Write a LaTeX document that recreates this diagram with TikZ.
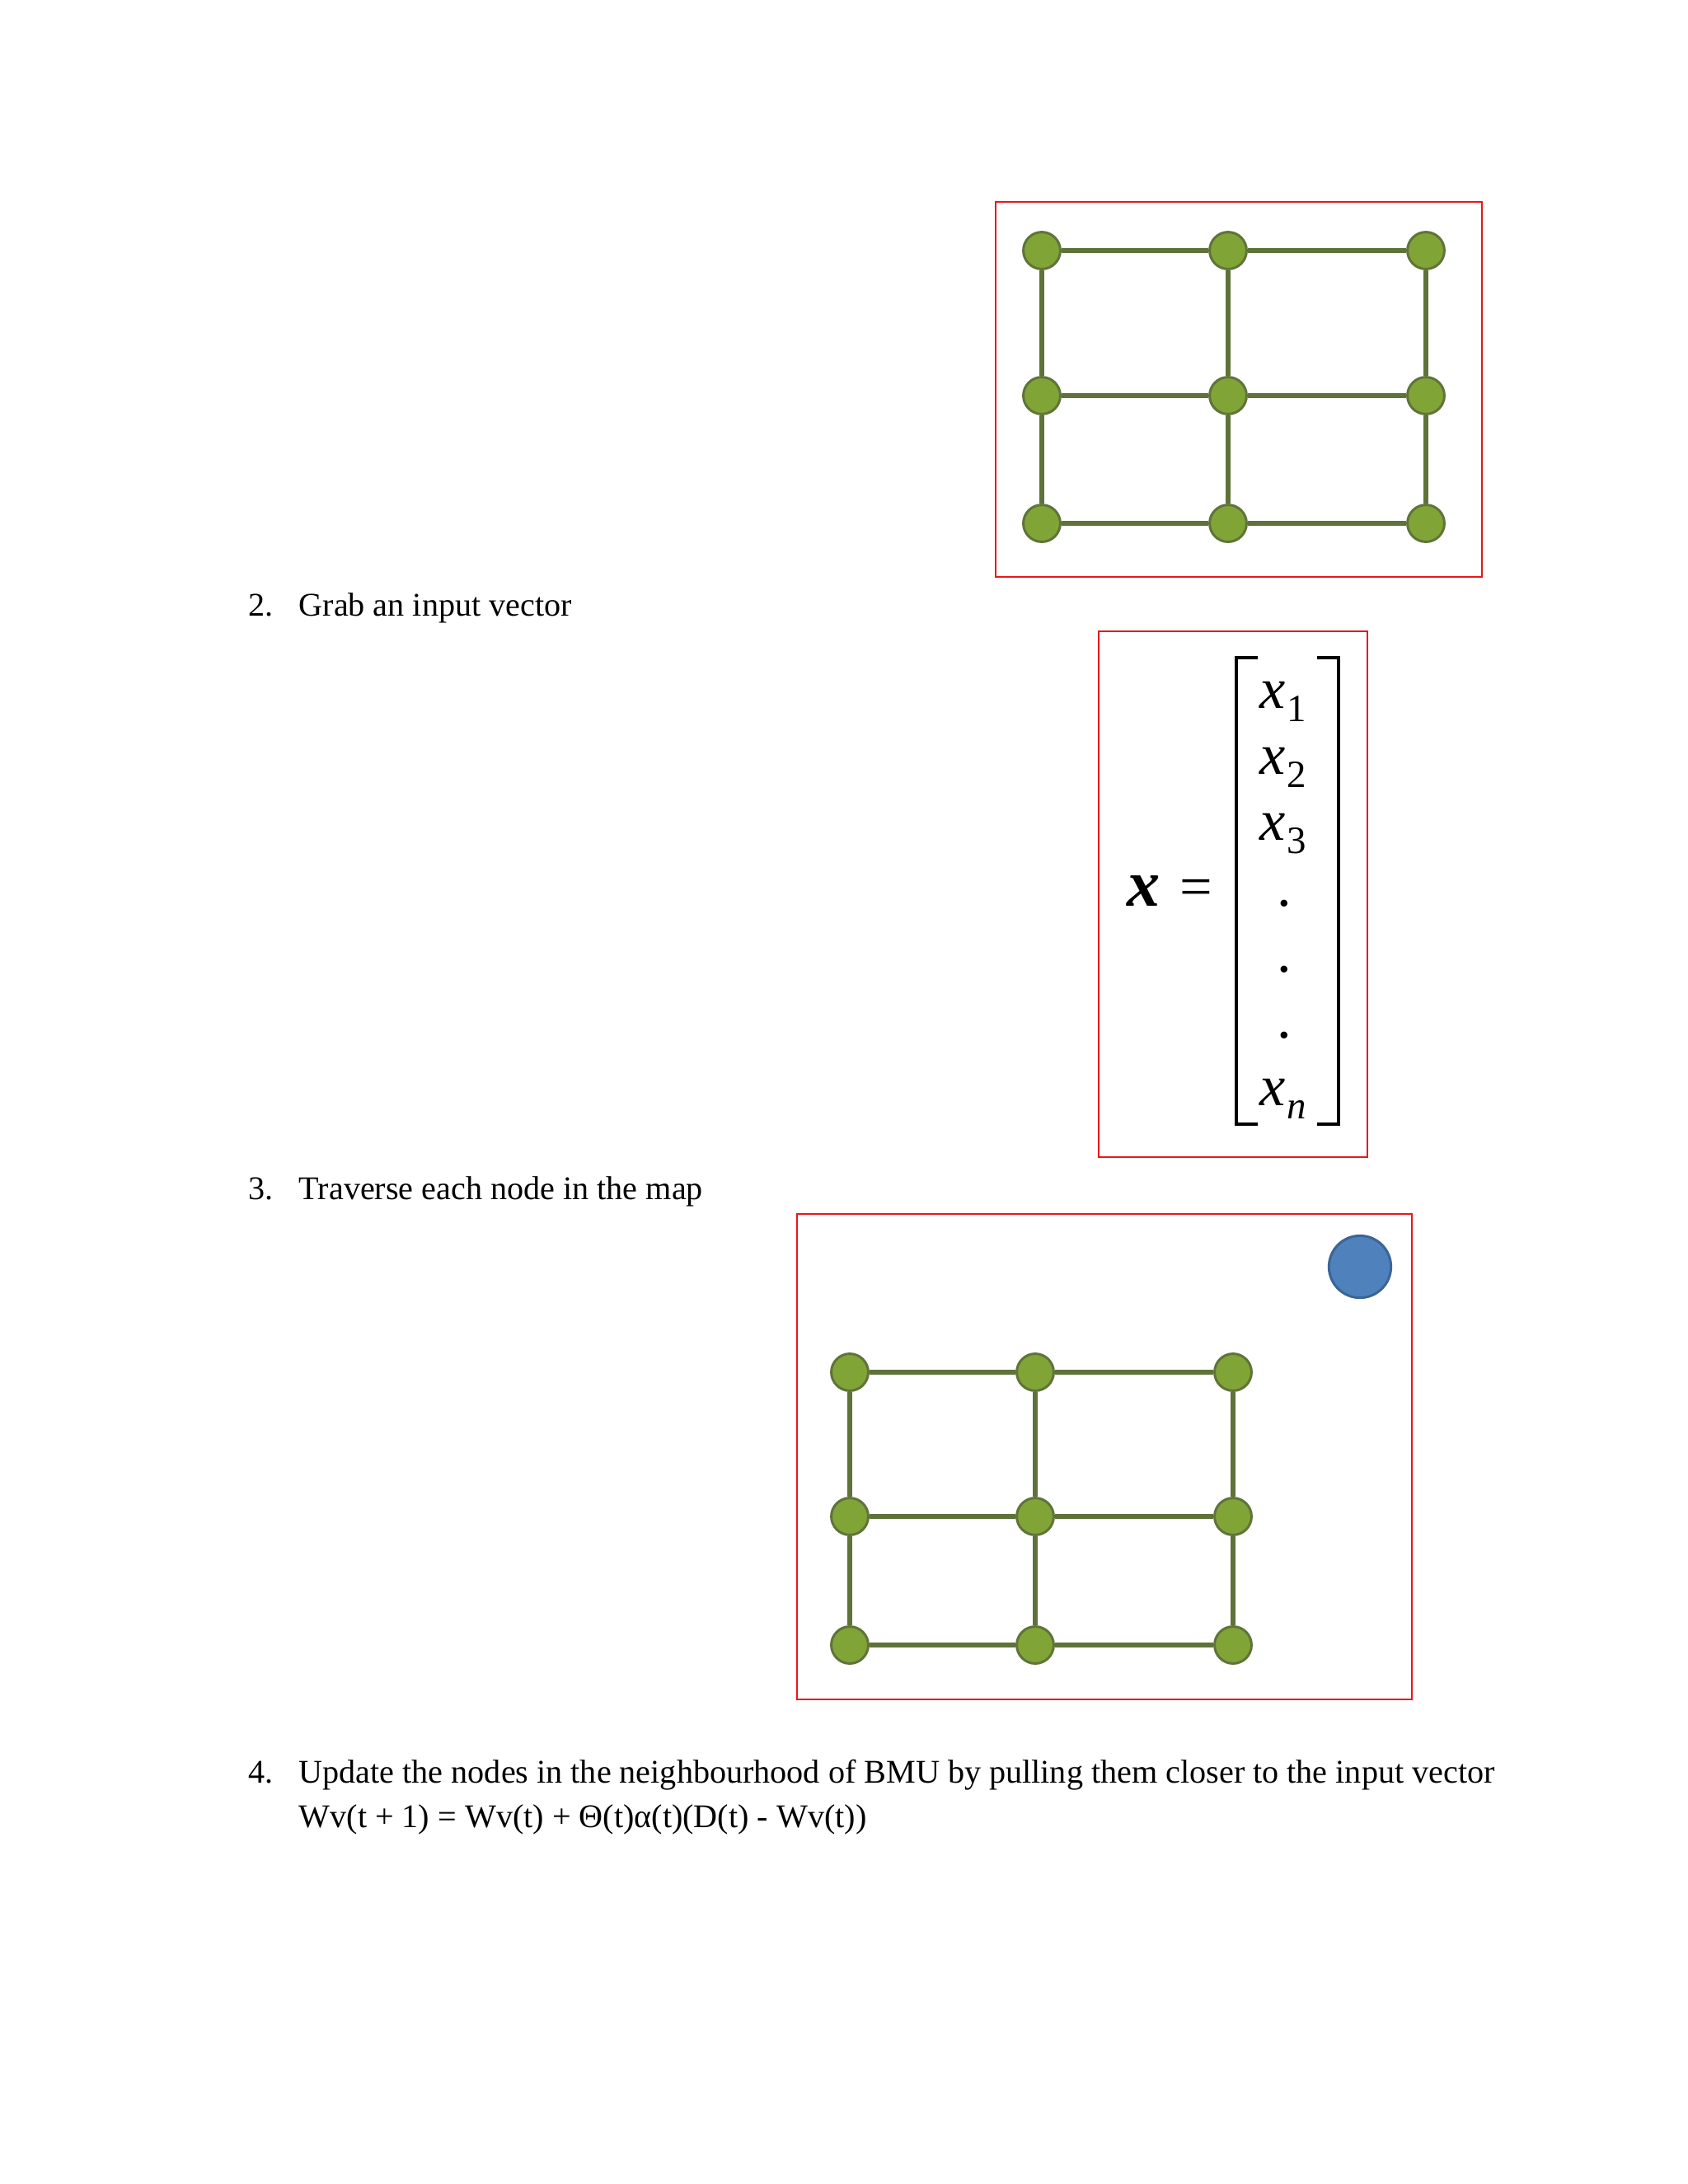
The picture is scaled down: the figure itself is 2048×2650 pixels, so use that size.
\documentclass[tikz,border=0pt]{standalone}
\usepackage{fontspec}
\setmainfont{Liberation Serif}
\definecolor{nodefill}{HTML}{80A536}
\definecolor{nodeborder}{HTML}{5F743A}
\definecolor{edgecol}{HTML}{5F7239}
\definecolor{framered}{RGB}{232,22,30}
\definecolor{bmufill}{HTML}{4F81BD}
\definecolor{bmuborder}{HTML}{3A6595}
\begin{document}
\begin{tikzpicture}[x=0.298828pt,y=-0.298828pt,
  gnode/.style={circle,fill=nodefill,draw=nodeborder,line width=0.9pt,minimum size=13.4pt,inner sep=0pt},
  gedge/.style={draw=edgecol,line width=1.8pt},
  frame/.style={draw=framered,line width=0.8pt},
  bmunode/.style={circle,fill=bmufill,draw=bmuborder,line width=0.9pt,minimum size=22.5pt,inner sep=0pt},
  itemtext/.style={anchor=base west,inner sep=0pt,font=\fontsize{12}{14}\selectfont},
  ent/.style={anchor=base,inner sep=0pt,font=\fontsize{21}{24}\selectfont},
  brk/.style={draw=black,line width=1pt}]
\useasboundingbox (0,0) rectangle (2048,2650);
\fill[white] (0,0) rectangle (2048,2650);

% ---------- Grid 1 ----------
\draw[frame] (1208,245) rectangle (1798,700);
\foreach \c/\x in {1/1264,2/1490,3/1730}
  \foreach \r/\y in {1/304,2/480,3/635}
    \node[gnode] (a\c\r) at (\x,\y) {};
\foreach \r in {1,2,3} {
  \draw[gedge] (a1\r) -- (a2\r);
  \draw[gedge] (a2\r) -- (a3\r);
}
\foreach \c in {1,2,3} {
  \draw[gedge] (a\c1) -- (a\c2);
  \draw[gedge] (a\c2) -- (a\c3);
}

% ---------- Item 2 ----------
\node[itemtext] (n2) at (301,747) {2.};
\node[itemtext] (t2) at (362,747) {Grab an input vector};

% ---------- Input vector ----------
\draw[frame] (1333,766) rectangle (1659,1404);
\node[ent,font=\fontsize{24}{24}\selectfont\bfseries\itshape] (bx) at (1388,1099) {x};
\node[ent,font=\fontsize{21}{24}\selectfont] (eq) at (1451,1099) {=};
\draw[brk] (1526,798) -- (1500,798) -- (1500,1364) -- (1526,1364);
\draw[brk] (1598,798) -- (1624,798) -- (1624,1364) -- (1598,1364);
\node[ent] (x1) at (1557,859) {\itshape x\hspace{0.6pt}\raisebox{-5pt}{\fontsize{14}{14}\selectfont\upshape 1}};
\node[ent] (x2) at (1557,939) {\itshape x\hspace{0.6pt}\raisebox{-5pt}{\fontsize{14}{14}\selectfont\upshape 2}};
\node[ent] (x3) at (1557,1019) {\itshape x\hspace{0.6pt}\raisebox{-5pt}{\fontsize{14}{14}\selectfont\upshape 3}};
\node[ent] (d1) at (1558,1099) {.};
\node[ent] (d2) at (1558,1179) {.};
\node[ent] (d3) at (1558,1259) {.};
\node[ent] (xn) at (1557,1341) {\itshape x\hspace{0.6pt}\raisebox{-5pt}{\fontsize{14}{14}\selectfont n}};

% ---------- Item 3 ----------
\node[itemtext] (n3) at (301,1455) {3.};
\node[itemtext] (t3) at (362,1455) {Traverse each node in the map};

% ---------- Grid 2 with BMU ----------
\draw[frame] (967,1473) rectangle (1713,2062);
\node[bmunode] (bmu) at (1650,1537) {};
\foreach \c/\x in {1/1031,2/1256,3/1496}
  \foreach \r/\y in {1/1665,2/1840,3/1996}
    \node[gnode] (b\c\r) at (\x,\y) {};
\foreach \r in {1,2,3} {
  \draw[gedge] (b1\r) -- (b2\r);
  \draw[gedge] (b2\r) -- (b3\r);
}
\foreach \c in {1,2,3} {
  \draw[gedge] (b\c1) -- (b\c2);
  \draw[gedge] (b\c2) -- (b\c3);
}

% ---------- Item 4 ----------
\node[itemtext] (n4) at (301,2163) {4.};
\node[itemtext] (t4) at (362,2163) {Update the nodes in the neighbourhood of BMU by pulling them closer to the input vector};
\node[itemtext] (t4b) at (362,2217) {Wv(t + 1) = Wv(t) + Θ(t)α(t)(D(t) - Wv(t))};
\end{tikzpicture}
\end{document}
